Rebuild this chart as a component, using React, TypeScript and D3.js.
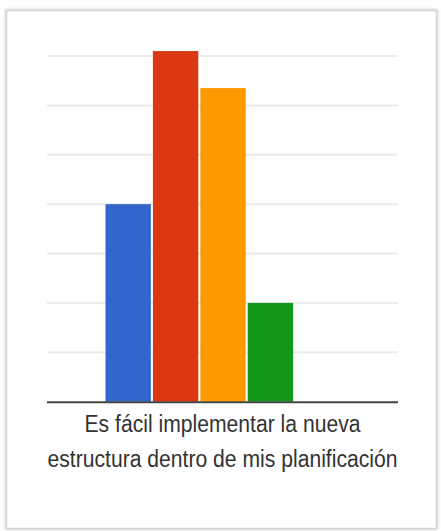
import React, { useEffect, useRef } from 'react';
import * as d3 from 'd3';

// respuestas por opción (escala 1-5); la 5ª no tiene respuestas
const options = ['1', '2', '3', '4', '5'];
const counts = [4, 7.1, 6.35, 2, 0];
const colors = ['#3366cc', '#dc3912', '#ff9900', '#109618', '#990099'];
const gridTicks = [0, 1, 2, 3, 4, 5, 6, 7];
const titleLines = ['Es fácil implementar la nueva', 'estructura dentro de mis planificación'];

function App() {
    const ref = useRef<SVGSVGElement>(null);

    useEffect(() => {
        const svg = d3.select(ref.current)
            .attr('width', 441)
            .attr('height', 531);
        svg.selectAll('*').remove();

        const defs = svg.append('defs');
        const shadow = defs.append('filter').attr('id', 'frameShadow')
            .attr('x', '-5%').attr('y', '-5%').attr('width', '110%').attr('height', '110%');
        shadow.append('feDropShadow')
            .attr('dx', 0).attr('dy', 0).attr('stdDeviation', 1.5)
            .attr('flood-color', '#000').attr('flood-opacity', 0.35);

        svg.append('rect')
            .attr('width', 441).attr('height', 531).attr('fill', '#fff');

        svg.append('rect')
            .attr('x', 6.5).attr('y', 10.5)
            .attr('width', 430).attr('height', 518)
            .attr('fill', '#fff')
            .attr('stroke', '#d4d4d4')
            .attr('stroke-width', 1.5)
            .attr('filter', 'url(#frameShadow)');

        const left = 47, right = 398;

        const y = d3.scaleLinear()
            .domain([0, 7])
            .range([401.7, 56]);

        const x = d3.scaleBand()
            .domain(options)
            .range([105.5, 340.5])
            .paddingInner(0.043);

        // líneas de la cuadrícula
        svg.append('g')
            .selectAll('line')
            .data(gridTicks.slice(1))
            .enter().append('line')
            .attr('x1', left).attr('x2', right)
            .attr('y1', (d) => y(d)).attr('y2', (d) => y(d))
            .attr('stroke', '#ebebeb')
            .attr('stroke-width', 2);

        svg.append('g')
            .selectAll('rect')
            .data(counts)
            .enter().append('rect')
            .attr('x', (d, i) => x(options[i]) as number)
            .attr('y', (d) => y(d))
            .attr('width', x.bandwidth())
            .attr('height', (d) => y(0) - y(d))
            .attr('fill', (d, i) => colors[i]);

        // eje base
        svg.append('line')
            .attr('x1', left).attr('x2', right)
            .attr('y1', y(0) + 0.5).attr('y2', y(0) + 0.5)
            .attr('stroke', '#444')
            .attr('stroke-width', 2);

        const widths = [276, 350];
        titleLines.forEach((line, i) => {
            svg.append('text')
                .attr('x', 222.5)
                .attr('y', 431.5 + i * 35)
                .attr('text-anchor', 'middle')
                .attr('font-family', '"Liberation Sans", Arial, sans-serif')
                .attr('font-size', 23)
                .attr('fill', '#333')
                .attr('textLength', widths[i])
                .attr('lengthAdjust', 'spacingAndGlyphs')
                .text(line);
        });
    }, []);

    return (
        <div style={{ position: 'absolute', left: 0, top: 0 }}>
            <svg ref={ref} style={{ display: 'block' }}></svg>
        </div>
    );
}

export default App;
